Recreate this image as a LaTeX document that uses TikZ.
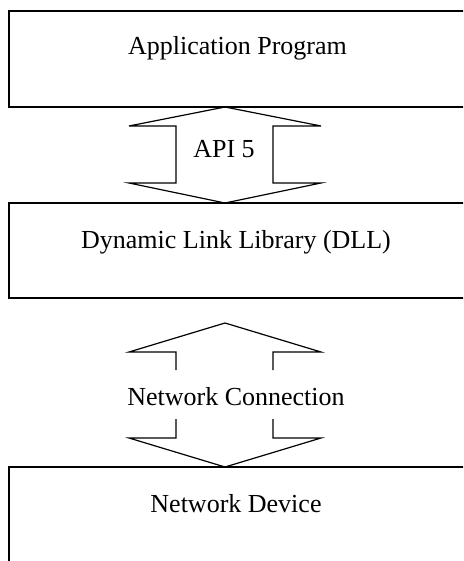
\documentclass[tikz,border=0pt]{standalone}
\usepackage{fontspec}
\setmainfont{Liberation Serif}
\usepackage{tikz}
\usetikzlibrary{calc}

\begin{document}
\begin{tikzpicture}[x=1pt, y=-1pt, line width=1.2pt,
    lbl/.style={anchor=base, inner sep=0pt, font=\fontsize{26}{31}\selectfont}]
  \useasboundingbox (0,0) rectangle (463,561);
  \clip (0,0) rectangle (463,561);

  % Layer boxes (running off the right edge)
  \draw (9,11) rectangle (480,107);
  \draw (9,203) rectangle (480,298);
  \draw (9,467) rectangle (480,600);

  % Box labels
  \node[lbl] (app) at (237.5,55) {Application Program};
  \node[lbl] (dll) at (236,248) {Dynamic Link Library (DLL)};
  \node[lbl] (dev) at (236,512) {Network Device};

  % Double arrow API 5
  \coordinate (T1) at (225,107);
  \coordinate (B1) at (225,203);
  \draw (129,126) -- (T1) -- (321,126) -- (273,126) -- (273,183) -- (321,183)
        -- (B1) -- (129,183) -- (176,183) -- (176,126) -- cycle;
  \node[lbl] (api) at (224,158) {API 5};

  % Double arrow with gap for the connection label
  \coordinate (T2) at (225,323);
  \coordinate (B2) at (225,467);
  \draw (176,370) -- (176,352) -- (129,352) -- (T2) -- (321,352) -- (273,352) -- (273,370);
  \draw (176,419) -- (176,438) -- (129,438) -- (B2) -- (321,438) -- (273,438) -- (273,419);
  \node[lbl] (net) at (236,405) {Network Connection};
\end{tikzpicture}
\end{document}
